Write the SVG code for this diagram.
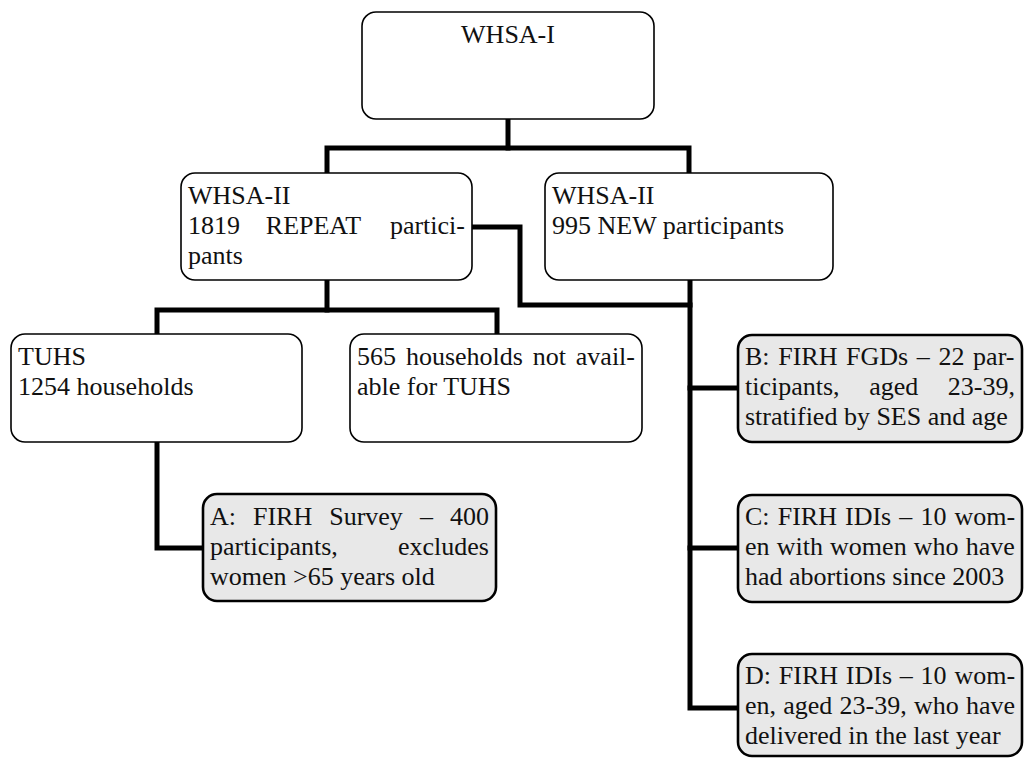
<svg xmlns="http://www.w3.org/2000/svg" width="1025" height="758" viewBox="0 0 1025 758">
<style>
.box{fill:#ffffff;stroke:#000;stroke-width:1.6}
.gbox{fill:#e8e8e8;stroke:#000;stroke-width:2.6}
.t{font-family:"Liberation Serif","Times New Roman",serif;font-size:26px;fill:#111}
.c{fill:none;stroke:#000;stroke-width:5;stroke-linejoin:miter;stroke-linecap:square}
</style>
<rect width="1025" height="758" fill="#fff"/>
<g id="connectors">
<path class="c" d="M508,119 V148"/>
<path class="c" d="M327,171 V148 H689 V171"/>
<path class="c" d="M327,282 V310"/>
<path class="c" d="M157,332 V310 H497 V332"/>
<path class="c" d="M474,227 H520 V305 H690"/>
<path class="c" d="M690,282 V708 H736"/>
<path class="c" d="M690,388 H736"/>
<path class="c" d="M690,548 H736"/>
<path class="c" d="M157,444 V548 H201"/>
</g>
<g id="whsa1">
<rect class="box" x="362" y="12" width="292" height="107" rx="14"/>
<text class="t" x="508" y="43" text-anchor="middle">WHSA-I</text>
</g>
<g id="whsa2-repeat">
<rect class="box" x="181" y="173" width="291" height="107" rx="14"/>
<text class="t" x="188" y="204">WHSA-II</text>
<text class="t" y="234"><tspan x="188">1819</tspan><tspan x="265.8">REPEAT</tspan><tspan x="389.9">partici-</tspan></text>
<text class="t" x="188" y="264">pants</text>
</g>
<g id="whsa2-new">
<rect class="box" x="545" y="173" width="288" height="107" rx="14"/>
<text class="t" x="552" y="204">WHSA-II</text>
<text class="t" x="552" y="234">995 NEW participants</text>
</g>
<g id="tuhs">
<rect class="box" x="11" y="334" width="291" height="108" rx="14"/>
<text class="t" x="18" y="365">TUHS</text>
<text class="t" x="18" y="395">1254 households</text>
</g>
<g id="not-available">
<rect class="box" x="350" y="334" width="292" height="108" rx="14"/>
<text class="t" y="365"><tspan x="357">565</tspan><tspan x="405.9">households</tspan><tspan x="532.8">not</tspan><tspan x="575.8">avail-</tspan></text>
<text class="t" x="357" y="395">able for TUHS</text>
</g>
<g id="nodeA">
<rect class="gbox" x="203" y="494" width="293" height="107" rx="14"/>
<text class="t" y="525"><tspan x="210">A:</tspan><tspan x="253">FIRH</tspan><tspan x="329.2">Survey</tspan><tspan x="419.9">–</tspan><tspan x="449.9">400</tspan></text>
<text class="t" y="555"><tspan x="210">participants,</tspan><tspan x="398">excludes</tspan></text>
<text class="t" x="210" y="585">women &gt;65 years old</text>
</g>
<g id="nodeB">
<rect class="gbox" x="738" y="335" width="284" height="107" rx="14"/>
<text class="t" y="365"><tspan x="745">B:</tspan><tspan x="778.2">FIRH</tspan><tspan x="846.1">FGDs</tspan><tspan x="916.8">–</tspan><tspan x="938.5">22</tspan><tspan x="973.1">par-</tspan></text>
<text class="t" y="395"><tspan x="745">ticipants,</tspan><tspan x="869.2">aged</tspan><tspan x="947.8">23-39,</tspan></text>
<text class="t" x="745" y="425">stratified by SES and age</text>
</g>
<g id="nodeC">
<rect class="gbox" x="738" y="495" width="284" height="107" rx="14"/>
<text class="t" y="525"><tspan x="745">C:</tspan><tspan x="777.7">FIRH</tspan><tspan x="845">IDIs</tspan><tspan x="899.3">–</tspan><tspan x="920.4">10</tspan><tspan x="954.5">wom-</tspan></text>
<text class="t" y="555"><tspan x="745">en</tspan><tspan x="776.7">with</tspan><tspan x="830.1">women</tspan><tspan x="913.8">who</tspan><tspan x="965.8">have</tspan></text>
<text class="t" x="745" y="585">had abortions since 2003</text>
</g>
<g id="nodeD">
<rect class="gbox" x="738" y="654" width="284" height="102" rx="14"/>
<text class="t" y="684"><tspan x="745">D:</tspan><tspan x="778.8">FIRH</tspan><tspan x="845.8">IDIs</tspan><tspan x="899.8">–</tspan><tspan x="920.6">10</tspan><tspan x="954.4">wom-</tspan></text>
<text class="t" y="714"><tspan x="745">en,</tspan><tspan x="783.2">aged</tspan><tspan x="839.5">23-39,</tspan><tspan x="913.9">who</tspan><tspan x="965.9">have</tspan></text>
<text class="t" x="745" y="744">delivered in the last year</text>
</g>
</svg>
